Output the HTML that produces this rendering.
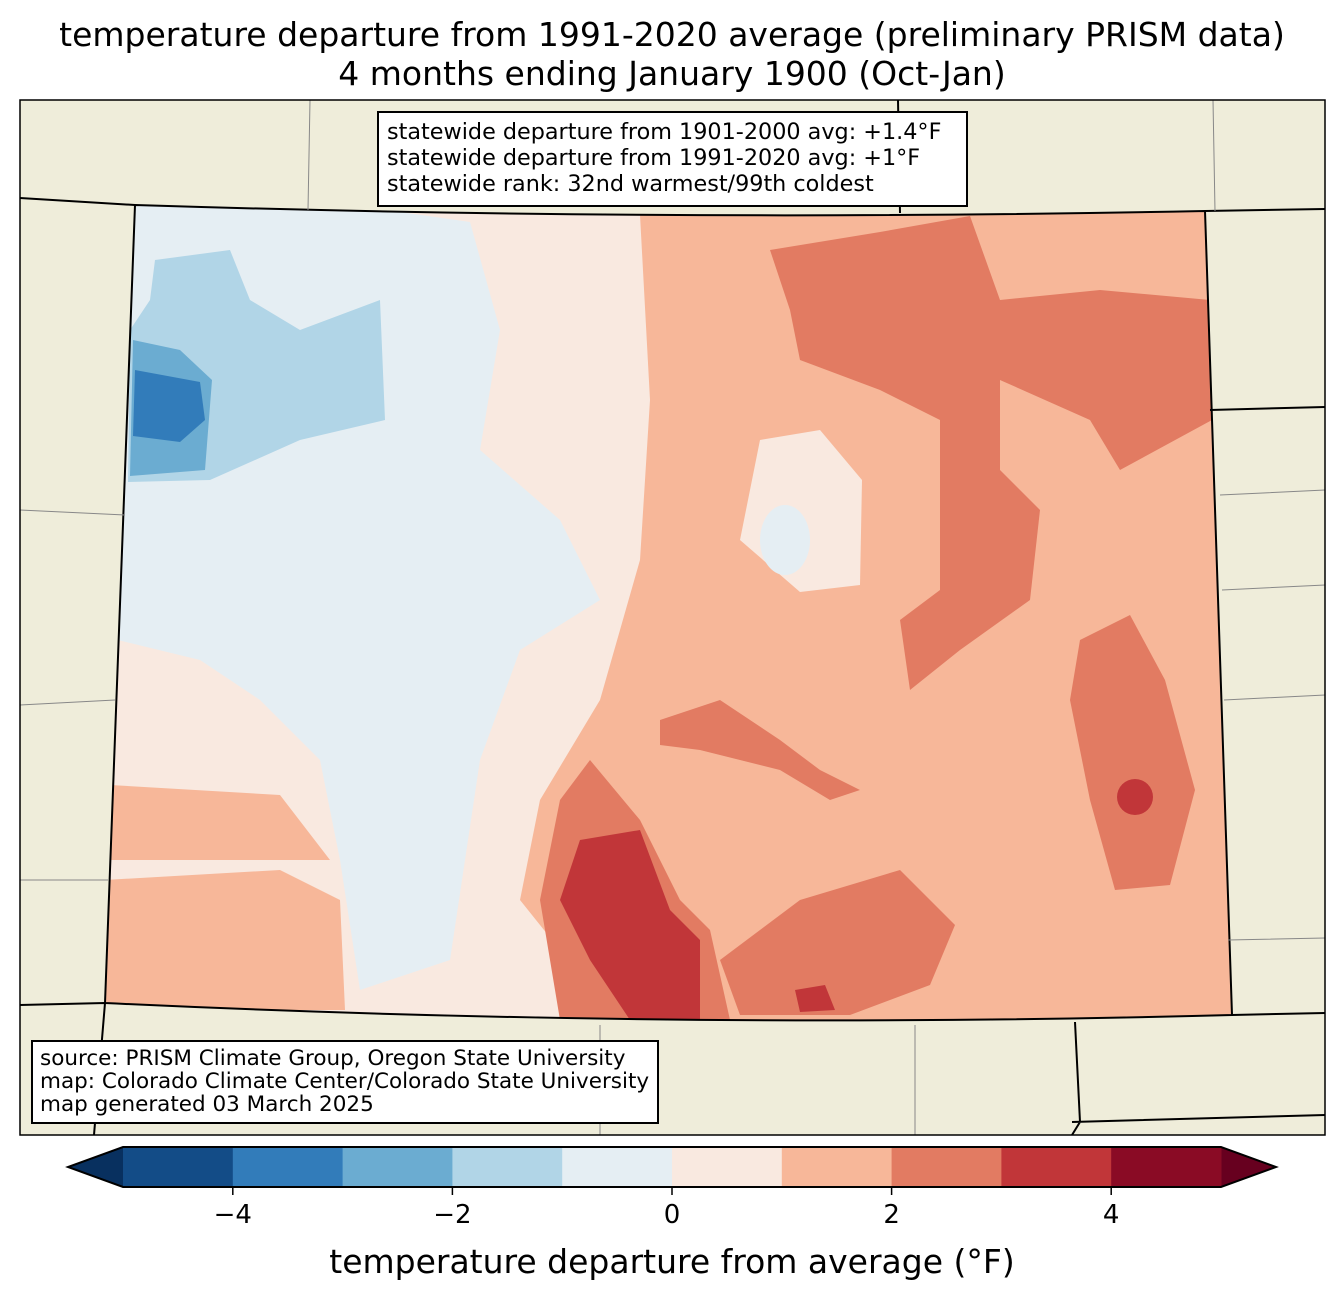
<!DOCTYPE html>
<html><head><meta charset="utf-8"><style>
body{margin:0;background:#fff;width:1344px;height:1299px;overflow:hidden;font-family:"DejaVu Sans","Liberation Sans",sans-serif;}
</style></head><body>
<svg id="s" width="1344" height="1299" viewBox="0 0 1344 1299" xmlns="http://www.w3.org/2000/svg">
<text x="672" y="46" font-size="33" text-anchor="middle">temperature departure from 1991-2020 average (preliminary PRISM data)</text>
<text x="672" y="85" font-size="33" text-anchor="middle">4 months ending January 1900 (Oct-Jan)</text>
<g>
<rect x="20" y="100" width="1305" height="1035" fill="#efedda"/>
<clipPath id="co"><path d="M135,205 Q670,222 1205,211 L1232,1015 Q670,1030 105,1003 Z"/></clipPath>
<g clip-path="url(#co)">
<rect x="100" y="200" width="1140" height="830" fill="#f9e9e0"/>
<path fill="#f7b799" d="M640,215 L1210,211 L1235,1020 L620,1025 L520,900 L540,800 L600,700 L640,560 L650,400 Z"/>
<path fill="#f7b799" d="M105,880 L280,870 L340,900 L345,1010 L100,1010 Z M110,785 L280,795 L330,860 L110,860 Z"/>
<path fill="#e5eef3" d="M135,205 L400,212 L470,222 L500,330 L480,450 L560,520 L600,600 L520,650 L480,760 L450,960 L360,990 L340,860 L320,760 L260,700 L200,660 L118,640 L128,400 Z"/>
<path fill="#b1d5e7" d="M155,260 L230,250 L250,300 L300,330 L380,300 L385,420 L300,440 L210,480 L128,482 L130,330 L150,300 Z"/>
<path fill="#6bacd1" d="M133,340 L180,350 L212,380 L205,470 L130,476 Z"/>
<path fill="#327cba" d="M135,370 L200,382 L205,420 L180,442 L133,436 Z"/>
<path fill="#f9e9e0" d="M760,440 L820,430 L862,480 L860,585 L800,592 L740,540 Z"/>
<ellipse cx="785" cy="540" rx="25" ry="35" fill="#e5eef3"/>
<path fill="#e27b62" d="M770,250 L880,232 L970,216 L1000,300 L1100,290 L1210,300 L1212,420 L1120,470 L1090,420 L1000,380 L1000,470 L1040,510 L1030,600 L960,650 L910,690 L900,620 L940,590 L940,420 L880,390 L800,360 L790,310 Z"/>
<path fill="#e27b62" d="M1080,640 L1130,615 L1165,680 L1195,790 L1170,885 L1115,890 L1090,800 L1070,700 Z"/>
<path fill="#e27b62" d="M800,900 L900,870 L955,925 L930,985 L850,1015 L740,1015 L720,960 Z"/>
<path fill="#e27b62" d="M660,720 L720,700 L780,740 L820,770 L860,790 L830,800 L780,770 L700,750 L660,745 Z"/>
<path fill="#e27b62" d="M590,760 L640,820 L680,900 L710,930 L730,1020 L560,1020 L540,900 L560,800 Z"/>
<path fill="#c13639" d="M580,840 L640,830 L670,910 L700,940 L700,1020 L630,1020 L590,960 L560,900 Z"/>
<circle cx="1135" cy="797" r="18" fill="#c13639"/>
<path fill="#c13639" d="M795,990 L825,985 L835,1010 L800,1012 Z"/>
</g>
<g fill="none" stroke="#000" stroke-width="2">
<path d="M135,205 Q670,222 1205,211 L1232,1015 Q670,1030 105,1003 Z"/>
<path d="M20,198 L135,205 M1205,211 L1325,209 M1210,410 L1325,407 M1232,1015 L1325,1013 M20,1005 L105,1003 M105,1003 L94,1135 M1075,1022 L1080,1122 L1072,1135 M1072,1122 L1325,1115 M898,100 L900,213"/>
</g>
<g fill="none" stroke="#888" stroke-width="1">
<path d="M20,510 L125,515 M20,705 L115,700 M20,880 L108,880 M1220,495 L1325,490 M1222,590 L1325,585 M1224,700 L1325,695 M1228,940 L1325,938 M310,100 L308,210 M600,1025 L600,1135 M915,1025 L915,1135 M1213,100 L1215,211"/>
</g>
<rect x="20" y="100" width="1305" height="1035" fill="none" stroke="#000" stroke-width="1.5"/>
</g>
<g>
<rect x="378" y="112" width="589" height="94" fill="#fff" stroke="#000" stroke-width="2"/>
<text x="387" y="139" font-size="22.3">statewide departure from 1901-2000 avg: +1.4°F</text>
<text x="387" y="165" font-size="22.3">statewide departure from 1991-2020 avg: +1°F</text>
<text x="387" y="191" font-size="22.3">statewide rank: 32nd warmest/99th coldest</text>
</g>
<g>
<rect x="32" y="1041" width="626" height="82" fill="#fff" stroke="#000" stroke-width="2"/>
<text x="40" y="1065" font-size="21.5">source: PRISM Climate Group, Oregon State University</text>
<text x="40" y="1088" font-size="21.5">map: Colorado Climate Center/Colorado State University</text>
<text x="40" y="1111" font-size="21.5">map generated 03 March 2025</text>
</g>
<g id="cb"></g>
<text x="672" y="1273" font-size="33" text-anchor="middle">temperature departure from average (°F)</text>
</svg>
<script>
const binEdges=[-5,-4,-3,-2,-1,0,1,2,3,4,5];
const binColors=["#134c87","#327cba","#6bacd1","#b1d5e7","#e5eef3","#f9e9e0","#f7b799","#e27b62","#c13639","#8a0b25"];
const extColors=["#08305f","#67001f"];
const tickValues=[-4,-2,0,2,4];
const tickLabels=["\u22124","\u22122","0","2","4"];
const NS="http://www.w3.org/2000/svg";
const g=document.getElementById('cb');
const x=v=>672+v*109.8;
const y0=1147,y1=1187;
function mk(t,a){const e=document.createElementNS(NS,t);for(const k in a)e.setAttribute(k,a[k]);g.appendChild(e);return e;}
let lt=mk('polygon',{points:`${x(-5)},${y0} ${x(-5)-55},${(y0+y1)/2} ${x(-5)},${y1}`,fill:extColors[0]});


let rt=mk('polygon',{points:`${x(5)},${y0} ${x(5)+55},${(y0+y1)/2} ${x(5)},${y1}`,fill:extColors[1]});


for(let i=0;i<binColors.length;i++){
 const r=mk('rect',{x:x(binEdges[i]),y:y0,width:x(binEdges[i+1])-x(binEdges[i])+0.5,height:y1-y0,fill:binColors[i]});
 
 
}
let ol=mk('polygon',{points:`${x(-5)},${y0} ${x(5)},${y0} ${x(5)+55},${(y0+y1)/2} ${x(5)},${y1} ${x(-5)},${y1} ${x(-5)-55},${(y0+y1)/2}`,fill:'none',stroke:'#000','stroke-width':2});


tickValues.forEach((v,i)=>{
 const t=mk('line',{x1:x(v),x2:x(v),y1:y1,y2:y1+8,stroke:'#000','stroke-width':1.5});
 
 
 const l=mk('text',{x:x(v),y:1223,'font-size':26,'text-anchor':'middle'});
 l.textContent=tickLabels[i];
 
 
});
</script>
</body></html>
